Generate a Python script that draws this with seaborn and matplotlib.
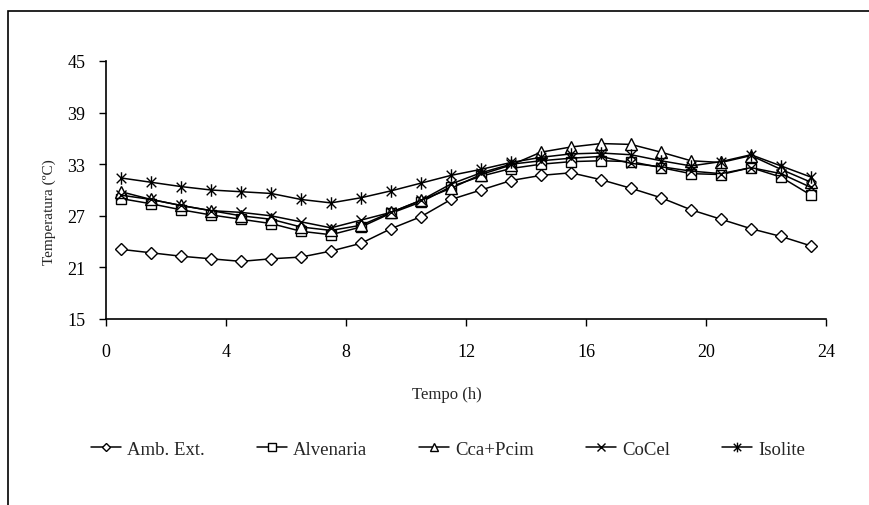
import numpy as np
import pandas as pd
import seaborn as sns
import matplotlib.pyplot as plt
from matplotlib.path import Path
from matplotlib.patches import Rectangle

hours = [0.5, 1.5, 2.5, 3.5, 4.5, 5.5, 6.5, 7.5, 8.5, 9.5, 10.5, 11.5,
         12.5, 13.5, 14.5, 15.5, 16.5, 17.5, 18.5, 19.5, 20.5, 21.5, 22.5, 23.5]

amb_ext = [23.1, 22.7, 22.3, 22.0, 21.7, 22.0, 22.2, 22.9, 23.8, 25.5, 26.9, 28.9,
           30.0, 31.1, 31.7, 32.0, 31.2, 30.2, 29.1, 27.7, 26.6, 25.5, 24.6, 23.5]
alvenaria = [29.0, 28.4, 27.7, 27.1, 26.6, 26.1, 25.2, 24.8, 25.7, 27.3, 28.6, 30.4,
             31.6, 32.5, 33.0, 33.3, 33.4, 33.3, 32.6, 31.9, 31.8, 32.6, 31.5, 29.4]
cca_pcim = [29.8, 28.9, 28.2, 27.6, 27.0, 26.6, 25.7, 25.3, 25.9, 27.4, 28.8, 30.2,
            31.8, 32.9, 34.4, 35.0, 35.4, 35.3, 34.4, 33.4, 33.2, 34.0, 32.4, 30.9]
cocel = [29.4, 28.9, 28.2, 27.6, 27.4, 27.0, 26.3, 25.6, 26.5, 27.4, 28.8, 30.7,
         32.0, 33.0, 33.4, 33.7, 33.9, 33.1, 32.7, 32.2, 31.9, 32.6, 31.9, 30.3]
isolite = [31.4, 30.9, 30.4, 30.0, 29.8, 29.6, 28.9, 28.5, 29.1, 29.9, 30.8, 31.7,
           32.4, 33.2, 33.8, 34.2, 34.3, 34.1, 33.4, 32.8, 33.3, 34.1, 32.8, 31.5]

labels = ["Amb. Ext.", "Alvenaria", "Cca+Pcim", "CoCel", "Isolite"]
series = [amb_ext, alvenaria, cca_pcim, cocel, isolite]

# asterisk like the excel one: x with a vertical bar
star = Path([(-1, -1), (1, 1), (-1, 1), (1, -1), (0, -1.3), (0, 1.3)],
            [Path.MOVETO, Path.LINETO, Path.MOVETO, Path.LINETO, Path.MOVETO, Path.LINETO])
markers = ["D", "s", "^", "x", star]
msizes = [6.5, 7.5, 8, 7, 9]
leg_sizes = [4.5, 5.5, 6, 5.5, 7]

sns.set_style("white")
plt.rcParams['font.family'] = ['Liberation Serif', 'DejaVu Serif']

fig = plt.figure(figsize=(8.7, 5.06), dpi=100)
ax = fig.add_axes([106 / 870, 1 - 320 / 506, 720 / 870, 258 / 506])

for lab, vals, mk, ms in zip(labels, series, markers, msizes):
    df = pd.DataFrame({"Tempo": hours, "Temp": vals})
    face = "none" if mk in ("x",) or mk is star else "white"
    sns.lineplot(data=df, x="Tempo", y="Temp", ax=ax, color="black", linewidth=1.1,
                 marker=mk, markersize=ms, markerfacecolor=face,
                 markeredgecolor="black", markeredgewidth=1.0, label=lab)

ax.set_xlim(0, 24)
ax.set_ylim(15, 45)
ax.set_xticks(range(0, 25, 4))
ax.set_yticks(range(15, 46, 6))
ax.tick_params(axis="both", direction="out", length=5, width=1, labelsize=13,
               colors="black", bottom=True, left=True)
ax.tick_params(axis="x", pad=12)
ax.tick_params(axis="y", pad=10)
for s in ["top", "right"]:
    ax.spines[s].set_visible(False)
for s in ["left", "bottom"]:
    ax.spines[s].set_color("black")
    ax.spines[s].set_linewidth(1.2)

ax.set_xlabel("Tempo (h)", fontsize=12)
ax.set_ylabel("Temperatura (ºC)", fontsize=11)
ax.xaxis.set_label_coords(0.474, -0.26)
ax.yaxis.set_label_coords(-0.07, 0.42)

handles, labs = ax.get_legend_handles_labels()
ax.get_legend().remove()
leg = fig.legend(handles, labs, loc="center", bbox_to_anchor=(0.515, 1 - 450 / 506), ncol=5,
                 frameon=False, fontsize=13.5, handlelength=1.6, columnspacing=2.8,
                 handletextpad=0.3)
for h, sz in zip(leg.legend_handles, leg_sizes):
    h.set_markersize(sz)

fig.add_artist(Rectangle((8 / 870, -0.2), 1.5, 1.2 - 12 / 506, transform=fig.transFigure,
                         fill=False, edgecolor="black", linewidth=1.2))

fig.savefig("out.png", dpi=100)
